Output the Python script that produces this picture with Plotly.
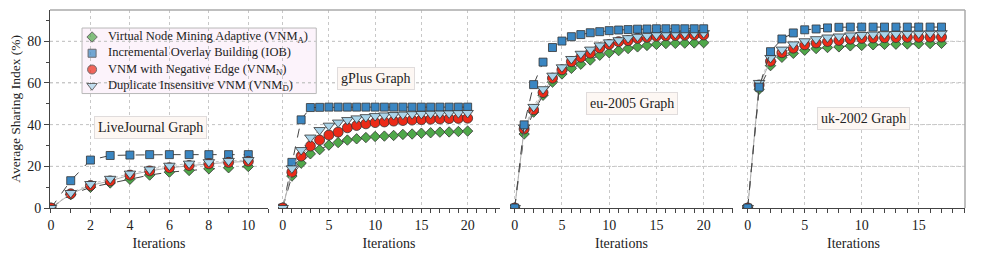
import plotly.graph_objects as go

FONT = "Liberation Serif"

series_names = [
    "Virtual Node Mining Adaptive (VNM<sub>A</sub>)",
    "Incremental Overlay Building (IOB)",
    "VNM with Negative Edge (VNM<sub>N</sub>)",
    "Duplicate Insensitive VNM (VNM<sub>D</sub>)",
]
panel_titles = ["LiveJournal Graph", "gPlus Graph", "eu-2005 Graph", "uk-2002 Graph"]

# LiveJournal (iterations 0..10)
lj_x = list(range(11))
lj_vnm_a = [0, 6.4, 9.9, 12, 13.8, 15.8, 17.2, 18.0, 18.8, 19.3, 19.9]
lj_iob = [0, 13.1, 23.0, 25.2, 25.4, 25.6, 25.6, 25.6, 25.6, 25.6, 25.6]
lj_vnm_n = [0, 6.8, 10.8, 13.0, 15.8, 17.8, 19.3, 20.4, 21.2, 21.9, 22.4]
lj_vnm_d = [0, 7.2, 11.5, 14.0, 16.5, 18.5, 20.3, 21.3, 22.0, 22.6, 23.0]

# gPlus (iterations 0..20)
gp_x = list(range(21))
gp_vnm_a = [0, 15.3, 21.5, 26.0, 28.0, 30.2, 31.4, 32.6, 33.2, 33.8, 34.3, 34.5, 34.8, 35.3, 35.5,
            35.9, 36.1, 36.4, 36.5, 36.7, 36.9]
gp_iob = [0, 21.9, 42.3, 48.2, 48.3, 48.4, 48.4, 48.4, 48.4, 48.4, 48.4, 48.4, 48.4, 48.4, 48.4,
          48.4, 48.4, 48.4, 48.4, 48.4, 48.4]
gp_vnm_n = [0, 17.2, 24.9, 29.7, 32.6, 35.0, 36.4, 38.5, 39.6, 40.4, 41.0, 41.3, 41.7, 42.0, 42.2,
            42.4, 42.6, 42.7, 42.9, 43.0, 43.1]
gp_vnm_d = [0, 19.0, 27.8, 33.8, 37.4, 39.5, 41.0, 42.2, 43.0, 43.6, 44.1, 44.4, 44.6, 44.8, 45.0,
            45.1, 45.2, 45.3, 45.4, 45.5, 45.6]

# eu-2005 (iterations 0..20)
eu_x = list(range(21))
eu_vnm_a = [0, 35.5, 46.0, 54.1, 60.4, 64.3, 67.0, 69.0, 71.0, 73.3, 74.5, 75.5, 76.5, 77.3, 78.0,
            78.5, 78.9, 79.0, 79.1, 79.2, 79.3]
eu_iob = [0, 39.9, 59.2, 70.0, 77.0, 80.1, 82.2, 83.2, 84.1, 84.6, 85.1, 85.4, 85.6, 85.8, 85.9,
          86.0, 86.0, 86.0, 86.0, 86.0, 86.0]
eu_vnm_n = [0, 37.9, 47.1, 55.4, 62.3, 66.3, 70.2, 72.3, 74.3, 76.8, 78.5, 79.8, 80.3, 81.4, 81.9,
            82.4, 82.6, 82.8, 82.9, 83.0, 83.0]
eu_vnm_d = [0, 38.6, 48.5, 57.0, 63.5, 67.5, 71.5, 74.0, 76.0, 78.0, 79.5, 80.5, 81.5, 82.2, 82.7,
            83.1, 83.4, 83.6, 83.7, 83.8, 83.9]

# uk-2002 (iterations 0..17)
uk_x = list(range(18))
uk_vnm_a = [0, 57.0, 68.3, 72.3, 74.2, 75.7, 76.5, 77.0, 77.3, 77.8, 78.0, 78.3, 78.5, 78.6, 78.7,
            78.8, 78.9, 79.0]
uk_iob = [0, 58.0, 75.0, 81.1, 84.0, 85.5, 85.9, 86.4, 86.7, 86.8, 86.8, 86.8, 86.8, 86.8, 86.8,
          86.8, 86.8, 86.8]
uk_vnm_n = [0, 59.0, 70.4, 74.5, 76.7, 78.3, 79.2, 79.9, 80.4, 81.0, 81.4, 81.6, 81.7, 81.8, 81.9,
            81.9, 82.0, 82.0]
uk_vnm_d = [0, 60.0, 72.0, 76.0, 78.5, 80.0, 81.0, 81.8, 82.3, 82.8, 83.0, 83.2, 83.4, 83.5, 83.6,
            83.7, 83.8, 83.9]

panels = [
    (lj_x, [lj_vnm_a, lj_iob, lj_vnm_n, lj_vnm_d]),
    (gp_x, [gp_vnm_a, gp_iob, gp_vnm_n, gp_vnm_d]),
    (eu_x, [eu_vnm_a, eu_iob, eu_vnm_n, eu_vnm_d]),
    (uk_x, [uk_vnm_a, uk_iob, uk_vnm_n, uk_vnm_d]),
]
# drawing order of the series inside each panel
draw_orders = [[1, 0, 2, 3], [1, 0, 2, 3], [0, 2, 3, 1], [0, 2, 3, 1]]

styles = [
    dict(symbol="diamond", color="#4fa84a", size=8, line=dict(color="#444444", width=1, dash="dash")),
    dict(symbol="square", color="#3a86c2", size=8, line=dict(color="#444444", width=1, dash="dash")),
    dict(symbol="circle", color="#ec2a18", size=10, line=dict(color="#9a9a9a", width=0.8)),
    dict(symbol="triangle-down", color="#a9d4ea", size=10, line=dict(color="#b0b0b0", width=0.8, dash="dot")),
]

fig = go.Figure()

for p, (xs, ys_list) in enumerate(panels):
    xa = "x" if p == 0 else f"x{p+1}"
    for s in draw_orders[p]:
        ys = ys_list[s]
        st = styles[s]
        fig.add_trace(go.Scatter(
            x=xs, y=ys, xaxis=xa, yaxis="y",
            mode="lines+markers",
            name=series_names[s].replace("<sub>", "_").replace("</sub>", ""),
            showlegend=False,
            line=st["line"],
            marker=dict(symbol=st["symbol"], color=st["color"], size=st["size"],
                        line=dict(color="#333333", width=0.8)),
        ))

# hand-made legend (compact rows like the reference)
leg_left, leg_right, leg_top, leg_bottom = 0.035, 0.291, 0.909, 0.578
leg_rows = [0.8636, 0.7816, 0.6995, 0.6174]
leg_center = 0.740
leg_sym_x = 0.193      # fraction of panel-1 width
leg_text_x = 0.0612    # paper fraction
fig.add_shape(type="rect", xref="paper", yref="paper", x0=leg_left, x1=leg_right,
              y0=leg_bottom, y1=leg_top, fillcolor="#fcf3fb",
              line=dict(color="#b8b8b8", width=1), layer="between")
fig.add_trace(go.Scatter(
    x=[leg_sym_x] * 4, y=leg_rows, xaxis="x5", yaxis="y2", mode="markers",
    showlegend=False, hoverinfo="skip", cliponaxis=False,
    marker=dict(symbol=[st["symbol"] for st in styles], color=[st["color"] for st in styles],
                size=[8, 8, 9, 9], line=dict(color="#333333", width=1)),
))
fig.add_annotation(text="<br>".join(series_names), xref="paper", yref="paper",
                   x=leg_text_x, y=leg_center, xanchor="left", yanchor="middle",
                   align="left", showarrow=False,
                   font=dict(family=FONT, size=12.5, color="#222222"))

domains = [[0.0, 0.2383], [0.2492, 0.4918], [0.5027, 0.7464], [0.7563, 1.0]]
ranges = [[-0.05, 11.0], [-0.5, 23.5], [-0.5, 23.1], [-0.5, 19.06]]
dticks = [2, 5, 5, 5]

axis_common = dict(
    showline=True, linecolor="#444444", linewidth=1,
    ticks="outside", ticklen=4, tickcolor="#444444",
    tickfont=dict(family=FONT, size=14, color="#222222"),
    showgrid=True, gridcolor="#c8c8c8", griddash="dot", gridwidth=1,
    zeroline=False, automargin=False,
    minor=dict(dtick=1, ticks="outside", ticklen=4, tickcolor="#444444", showgrid=False),
    title=dict(text="Iterations", font=dict(family=FONT, size=14, color="#222222"), standoff=6),
    anchor="y",
)

layout = {}
for i in range(4):
    key = "xaxis" if i == 0 else f"xaxis{i+1}"
    layout[key] = dict(axis_common, domain=domains[i], range=ranges[i], dtick=dticks[i], tick0=0)
layout["xaxis5"] = dict(overlaying="x", range=[0, 1], visible=False, anchor="y2")
layout["yaxis2"] = dict(overlaying="y", range=[0, 1], visible=False, anchor="x5")

fig.update_layout(**layout)

# the page body adds an 8px offset; the sizes below compensate so the plot
# area lands at x 50-965 and y 10-208 in the 981x262 window
fig.update_layout(
    width=973, height=254,
    margin=dict(l=42, r=16, t=2, b=54),
    paper_bgcolor="white", plot_bgcolor="white",
    font=dict(family=FONT, size=13, color="#222222"),
    yaxis=dict(
        range=[0, 95], dtick=20, tick0=0,
        showline=True, linecolor="#444444", linewidth=1,
        ticks="outside", ticklen=5, tickcolor="#444444",
        minor=dict(dtick=10, ticks="outside", ticklen=3, tickcolor="#444444", showgrid=False),
        tickfont=dict(family=FONT, size=14, color="#222222"),
        showgrid=True, gridcolor="#c8c8c8", griddash="dot", gridwidth=1,
        zeroline=False, automargin=False,
    ),
    showlegend=False,
)

# y-axis title placed like the reference
fig.add_annotation(text="Average Sharing Index (%)", xref="paper", yref="paper",
                   x=-0.0385, y=0.5, xanchor="center", yanchor="middle", textangle=-90,
                   showarrow=False, font=dict(family=FONT, size=13.5, color="#222222"))

# horizontal grid across the gaps between panels
for gy in [20, 40, 60, 80]:
    fig.add_shape(type="line", xref="paper", yref="y", x0=0, x1=1, y0=gy, y1=gy,
                  line=dict(color="#c8c8c8", width=1, dash="dot"), layer="below")

# top and right frame
fig.add_shape(type="line", xref="paper", yref="paper", x0=0, x1=1, y0=1, y1=1,
              line=dict(color="#aaaaaa", width=1.5))
fig.add_shape(type="line", xref="paper", yref="paper", x0=1, x1=1, y0=0, y1=1,
              line=dict(color="#aaaaaa", width=1.5))

ann_pos = [(0.1093, 0.409), (0.3563, 0.654), (0.636, 0.528), (0.889, 0.4545)]
for t, (ax, ay) in zip(panel_titles, ann_pos):
    fig.add_annotation(text=t, xref="paper", yref="paper", x=ax, y=ay, showarrow=False,
                       xanchor="center", yanchor="middle",
                       font=dict(family=FONT, size=14, color="#222222"),
                       bgcolor="#fdf7f3", bordercolor="#e0dcdc", borderwidth=1, borderpad=3)

fig.write_html("out.html")
